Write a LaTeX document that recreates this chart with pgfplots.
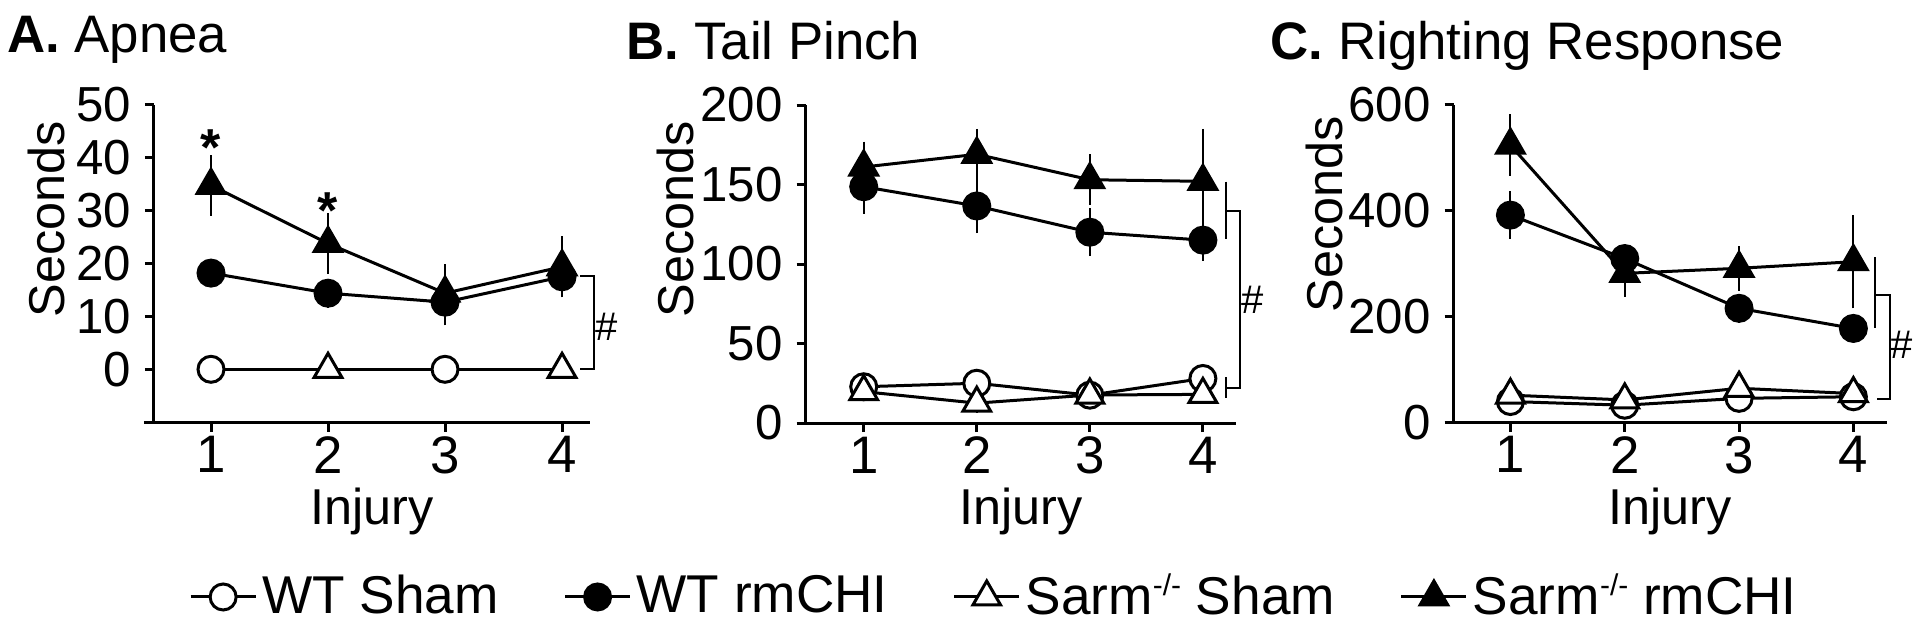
\documentclass[border=0pt]{standalone}
\usepackage{fontspec}
\setmainfont{Liberation Sans}
\usepackage{pgfplots}
\pgfplotsset{compat=1.18}

% knockout superscript, small and tight as in the figure
\newcommand{\ko}{\raisebox{4.6pt}{\fontsize{7.5}{8}\selectfont -/-}}

% 1 px of the reference = 0.25pt
\pgfplotsset{
  panel/.style={
    scale only axis,
    anchor=south west,
    axis x line*=bottom,
    axis y line*=left,
    axis line style={line width=0.75pt},
    tick align=outside,
    major tick length=2.25pt,
    every tick/.style={line width=0.75pt, black},
    xtick={1,2,3,4},
    /pgf/number format/assume math mode=true,
    yticklabel style={font=\fontsize{12.3}{14}\selectfont},
    xticklabel style={font=\fontsize{13.2}{15}\selectfont, inner sep=0pt, yshift=-1.0pt},
    label style={font=\fontsize{12.6}{15}\selectfont},
    xlabel={Injury},
    ylabel={Seconds},
    xlabel style={at={(axis description cs:0.5,-0.32)}, anchor=base, inner sep=0pt},
    clip=false,
    error bars/error bar style={line width=0.5pt},
    error bars/error mark options={mark size=1.6pt, line width=0.5pt},
  },
  wtsham/.style={black, line width=0.75pt, mark=*, mark size=3.25pt, mark options={fill=white, draw=black, solid}},
  wtchi/.style={black, line width=0.75pt, mark=*, mark size=3.25pt, mark options={fill=black}},
  sasham/.style={black, line width=0.75pt, mark=triangle*, mark size=4pt, mark options={fill=white, draw=black}},
  sachi/.style={black, line width=0.75pt, mark=triangle*, mark size=4pt, mark options={fill=black}},
  ebar/.style={error bars/y dir=both, error bars/y explicit},
}

\begin{document}
\begin{tikzpicture}
\path[use as bounding box] (0,0) rectangle (480pt,158.25pt);

% ---------- A. Apnea ----------
\begin{axis}[panel, at={(38.475pt,52.575pt)}, width=109.03pt, height=79.43pt,
  xmin=0.512, xmax=4.239, ymin=-10.1, ymax=50, ytick={0,10,20,30,40,50},
  x axis line style={shorten <=-2.5pt},
  ylabel style={at={(axis description cs:-0.2474,0.641)}, anchor=center},
  legend columns=4,
  legend image code/.code={\draw[mark repeat=2,mark phase=2,#1] plot coordinates {(0pt,0pt) (8.125pt,0pt) (16.25pt,0pt)};},
  legend style={at={(axis description cs:0.079,-0.5486)}, anchor=west, draw=none, fill=none,
    inner sep=0pt, font=\fontsize{13.3}{15}\selectfont,
    nodes={inner xsep=1.25pt, inner ysep=0.5pt},
    /tikz/every even column/.append style={column sep=15pt}},
  ]
  \addlegendimage{wtsham}\addlegendentry{WT Sham}
  \addlegendimage{wtchi}\addlegendentry{WT rmCHI}
  \addlegendimage{sasham}\addlegendentry{Sarm\ko\ Sham}
  \addlegendimage{sachi}\addlegendentry{Sarm\ko\ rmCHI}

  \addplot[sasham, mark indices={2,4}, forget plot] coordinates {(1,0) (2,0) (3,0) (4,0)};
  \addplot[wtsham, only marks, mark indices={1,3}, forget plot] coordinates {(1,0) (2,0) (3,0) (4,0)};
  \addplot[sachi, forget plot, ebar] coordinates {
    (1,34.8) +- (0,4.5) (2,23.8) +- (0,4.5) (3,14.4) +- (0,4.3) (4,19.4) +- (0,4.6)};
  \addplot[wtchi, forget plot, ebar] coordinates {
    (1,18.2) +- (0,1.5) (2,14.4) +- (0,1.5) (3,12.7) +- (0,3.2) (4,17.5) +- (0,2)};

  \draw[line width=0.5pt] (axis cs:4.154,17.6) -- (axis cs:4.274,17.6) -- (axis cs:4.274,0) -- (axis cs:4.154,0);
  \node[font=\fontsize{10}{12}\selectfont] at (axis cs:4.385,8.1) {\#};
  \node[anchor=base, font=\fontsize{13}{15}\selectfont] at (axis cs:1,38.5) {\textbf{*}};
  \node[anchor=base, font=\fontsize{13}{15}\selectfont] at (axis cs:2,26.7) {\textbf{*}};
\end{axis}

% ---------- B. Tail Pinch ----------
\begin{axis}[panel, at={(201.43pt,52.5pt)}, width=107.58pt, height=79.5pt,
  xmin=0.487, xmax=4.293, ymin=0, ymax=200, ytick={0,50,100,150,200},
  ylabel style={at={(axis description cs:-0.3037,0.6415)}, anchor=center},
  ]
  \addplot[wtsham, ebar] coordinates {
    (1,22.8) +- (0,3) (2,25) +- (0,3) (3,17.5) +- (0,2) (4,28) +- (0,3)};
  \addplot[sasham, ebar] coordinates {
    (1,19.7) +- (0,2) (2,12.5) +- (0,2) (3,17.6) +- (0,2) (4,18) +- (0,2)};
  \addplot[sachi, ebar] coordinates {
    (1,161) +- (0,12) (2,169) +- (0,12) (3,153) +- (0,12) (4,152) +- (0,29)};
  \addplot[wtchi, ebar] coordinates {
    (1,148.6) +- (0,13) (2,136.5) +- (0,13) (3,120) +- (0,11) (4,115) +- (0,9)};

  \draw[line width=0.5pt] (axis cs:4.204,151.8) -- (axis cs:4.204,115.5);
  \draw[line width=0.5pt] (axis cs:4.204,28.7) -- (axis cs:4.204,15.5);
  \draw[line width=0.5pt] (axis cs:4.204,133.5) -- (axis cs:4.328,133.5) -- (axis cs:4.328,21.8) -- (axis cs:4.204,21.8);
  \node[font=\fontsize{10}{12}\selectfont] at (axis cs:4.443,77.4) {\#};
\end{axis}

% ---------- C. Righting Response ----------
\begin{axis}[panel, at={(363.4pt,52.575pt)}, width=108.35pt, height=79.43pt,
  xmin=0.503, xmax=4.294, ymin=0, ymax=600, ytick={0,200,400,600},
  ylabel style={at={(axis description cs:-0.299,0.657)}, anchor=center},
  ]
  \addplot[wtsham, ebar] coordinates {
    (1,40) +- (0,5) (2,33) +- (0,5) (3,46) +- (0,5) (4,49) +- (0,5)};
  \addplot[sasham, ebar] coordinates {
    (1,52) +- (0,8) (2,43) +- (0,5) (3,65) +- (0,10) (4,55) +- (0,5)};
  \addplot[sachi, ebar] coordinates {
    (1,524) +- (0,46) (2,282) +- (0,32) (3,291.6) +- (0,30) (4,304) +- (0,76)};
  \addplot[wtchi, ebar] coordinates {
    (1,392) +- (0,33) (2,310) +- (0,15) (3,216) +- (0,15) (4,178) +- (0,12)};

  \draw[line width=0.5pt] (axis cs:4.189,312) -- (axis cs:4.189,178);
  \draw[line width=0.5pt] (axis cs:4.189,241) -- (axis cs:4.32,241) -- (axis cs:4.32,44) -- (axis cs:4.21,44);
  \node[font=\fontsize{10}{12}\selectfont] at (axis cs:4.42,146.7) {\#};
\end{axis}

% ---------- panel titles ----------
\node[anchor=base west, inner sep=0pt, font=\fontsize{13.2}{15}\selectfont] at (1.6pt,145pt) {\textbf{A.} Apnea};
\node[anchor=base west, inner sep=0pt, font=\fontsize{13.2}{15}\selectfont] at (156.5pt,143.4pt) {\textbf{B.} Tail Pinch};
\node[anchor=base west, inner sep=0pt, font=\fontsize{13.2}{15}\selectfont] at (317.5pt,143.4pt) {\textbf{C.} Righting Response};
\end{tikzpicture}
\end{document}
